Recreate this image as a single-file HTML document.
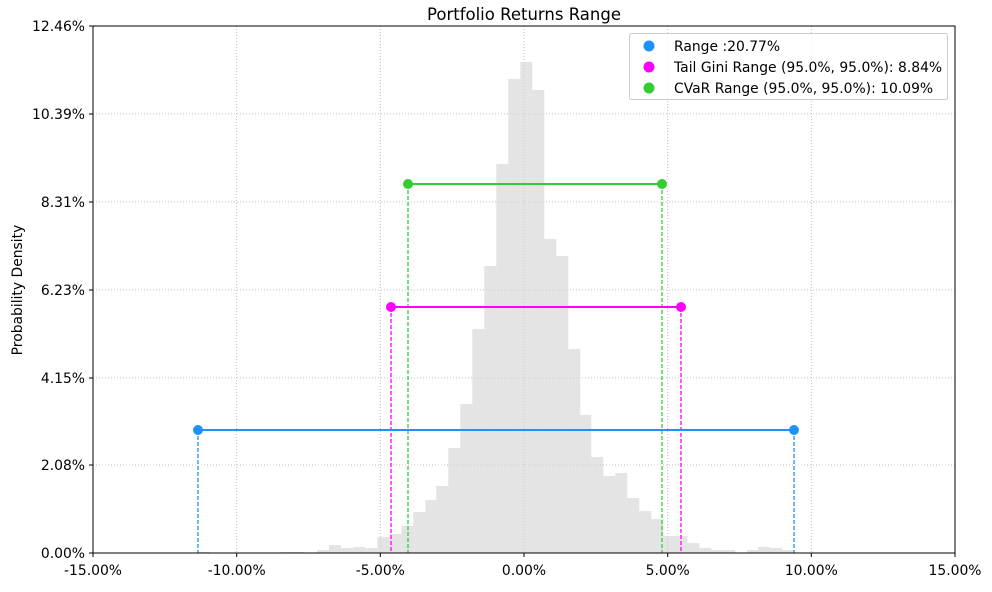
<!DOCTYPE html>
<html><head><meta charset="utf-8"><style>
html,body{margin:0;padding:0;background:#fff;}
svg{display:block;font-family:"DejaVu Sans","Liberation Sans",sans-serif;}
</style></head><body>
<svg width="992" height="592" viewBox="0 0 992 592" xmlns="http://www.w3.org/2000/svg">
<rect width="992" height="592" fill="#fff"/>
<g stroke="#b0b0b0" stroke-width="0.8" stroke-dasharray="1,2">
<line x1="236.7" y1="26" x2="236.7" y2="553"/><line x1="380.3" y1="26" x2="380.3" y2="553"/>
<line x1="524" y1="26" x2="524" y2="553"/><line x1="667.7" y1="26" x2="667.7" y2="553"/>
<line x1="811.3" y1="26" x2="811.3" y2="553"/>
<line x1="93" y1="114" x2="955" y2="114"/><line x1="93" y1="202" x2="955" y2="202"/>
<line x1="93" y1="290" x2="955" y2="290"/><line x1="93" y1="378" x2="955" y2="378"/>
<line x1="93" y1="465" x2="955" y2="465"/>
</g>
<g fill="#d3d3d3" fill-opacity="0.62">
<rect x="198" y="552" width="12" height="1"/>
<rect x="281" y="552" width="24" height="1"/>
<rect x="317" y="550" width="12" height="3"/>
<rect x="329" y="545" width="12" height="8"/>
<rect x="341" y="548" width="12" height="5"/>
<rect x="353" y="547" width="12" height="6"/>
<rect x="365" y="548" width="12.3" height="5"/>
<rect x="377.3" y="537" width="12" height="16"/>
<rect x="389.3" y="534" width="12" height="19"/>
<rect x="401.3" y="526" width="12" height="27"/>
<rect x="413.3" y="512" width="12" height="41"/>
<rect x="425.3" y="500" width="11" height="53"/>
<rect x="436.3" y="486" width="12" height="67"/>
<rect x="448.3" y="448" width="12" height="105"/>
<rect x="460.3" y="404" width="12" height="149"/>
<rect x="472.3" y="329" width="12" height="224"/>
<rect x="484.3" y="266" width="12" height="287"/>
<rect x="496.3" y="164" width="12" height="389"/>
<rect x="508.3" y="79" width="12" height="474"/>
<rect x="520.3" y="62" width="12" height="491"/>
<rect x="532.3" y="90" width="12" height="463"/>
<rect x="544.3" y="239" width="12" height="314"/>
<rect x="556.3" y="256" width="12" height="297"/>
<rect x="568.3" y="349" width="12" height="204"/>
<rect x="580.3" y="415" width="11" height="138"/>
<rect x="591.3" y="457" width="12" height="96"/>
<rect x="603.3" y="476" width="12" height="77"/>
<rect x="615.3" y="473" width="12" height="80"/>
<rect x="627.3" y="498" width="12" height="55"/>
<rect x="639.3" y="511" width="12" height="42"/>
<rect x="651.3" y="519" width="12" height="34"/>
<rect x="663.3" y="536" width="24" height="17"/>
<rect x="687.3" y="543" width="12" height="10"/>
<rect x="699.3" y="548" width="12" height="5"/>
<rect x="711.3" y="550" width="24" height="3"/>
<rect x="747" y="550" width="11" height="3"/>
<rect x="758" y="547" width="12" height="6"/>
<rect x="770" y="548" width="12" height="5"/>
<rect x="782" y="550" width="12" height="3"/>
</g>
<g stroke-width="1.3" stroke-dasharray="4,2" fill="none">
<line x1="198" y1="430" x2="198" y2="553" stroke="#1e90ff"/>
<line x1="794" y1="430" x2="794" y2="553" stroke="#1e90ff"/>
<line x1="391" y1="307" x2="391" y2="553" stroke="#ff00ff"/>
<line x1="681" y1="307" x2="681" y2="553" stroke="#ff00ff"/>
<line x1="408" y1="184" x2="408" y2="553" stroke="#32cd32"/>
<line x1="662" y1="184" x2="662" y2="553" stroke="#32cd32"/>
</g>
<line x1="198" y1="430" x2="794" y2="430" stroke="#1e90ff" stroke-width="2"/>
<circle cx="198" cy="430" r="5" fill="#1e90ff"/><circle cx="794" cy="430" r="5" fill="#1e90ff"/>
<line x1="391" y1="307" x2="681" y2="307" stroke="#ff00ff" stroke-width="2"/>
<circle cx="391" cy="307" r="5" fill="#ff00ff"/><circle cx="681" cy="307" r="5" fill="#ff00ff"/>
<line x1="408" y1="184" x2="662" y2="184" stroke="#32cd32" stroke-width="2"/>
<circle cx="408" cy="184" r="5" fill="#32cd32"/><circle cx="662" cy="184" r="5" fill="#32cd32"/>
<rect x="93" y="26" width="862" height="527" fill="none" stroke="#000" stroke-width="1"/>
<g stroke="#000" stroke-width="1">
<line x1="93" y1="553" x2="93" y2="557"/><line x1="236.7" y1="553" x2="236.7" y2="557"/>
<line x1="380.3" y1="553" x2="380.3" y2="557"/><line x1="524" y1="553" x2="524" y2="557"/>
<line x1="667.7" y1="553" x2="667.7" y2="557"/><line x1="811.3" y1="553" x2="811.3" y2="557"/>
<line x1="955" y1="553" x2="955" y2="557"/>
<line x1="89" y1="26" x2="93" y2="26"/><line x1="89" y1="114" x2="93" y2="114"/>
<line x1="89" y1="202" x2="93" y2="202"/><line x1="89" y1="290" x2="93" y2="290"/>
<line x1="89" y1="378" x2="93" y2="378"/><line x1="89" y1="465" x2="93" y2="465"/>
<line x1="89" y1="553" x2="93" y2="553"/>
</g>
<g font-size="13.9" fill="#000" text-anchor="middle">
<text x="93" y="575">-15.00%</text><text x="236.7" y="575">-10.00%</text>
<text x="380.3" y="575">-5.00%</text><text x="524" y="575">0.00%</text>
<text x="667.7" y="575">5.00%</text><text x="811.3" y="575">10.00%</text>
<text x="955" y="575">15.00%</text>
</g>
<g font-size="13.9" fill="#000" text-anchor="end">
<text x="85" y="31">12.46%</text><text x="85" y="119">10.39%</text>
<text x="85" y="207">8.31%</text><text x="85" y="295">6.23%</text>
<text x="85" y="383">4.15%</text><text x="85" y="470">2.08%</text>
<text x="85" y="558">0.00%</text>
</g>
<text x="22" y="290" font-size="13.9" text-anchor="middle" transform="rotate(-90 22 290)">Probability Density</text>
<text x="524" y="20" font-size="16.5" text-anchor="middle">Portfolio Returns Range</text>
<rect x="629.5" y="33.5" width="318" height="66" rx="2" fill="#fff" fill-opacity="0.8" stroke="#ccc"/>
<circle cx="649" cy="46" r="5.5" fill="#1e90ff"/>
<circle cx="649" cy="67" r="5.5" fill="#ff00ff"/>
<circle cx="649" cy="88" r="5.5" fill="#32cd32"/>
<g font-size="13.9" fill="#000">
<text x="674" y="51">Range :20.77%</text>
<text x="674" y="72">Tail Gini Range (95.0%, 95.0%): 8.84%</text>
<text x="674" y="93">CVaR Range (95.0%, 95.0%): 10.09%</text>
</g>
</svg>
</body></html>
